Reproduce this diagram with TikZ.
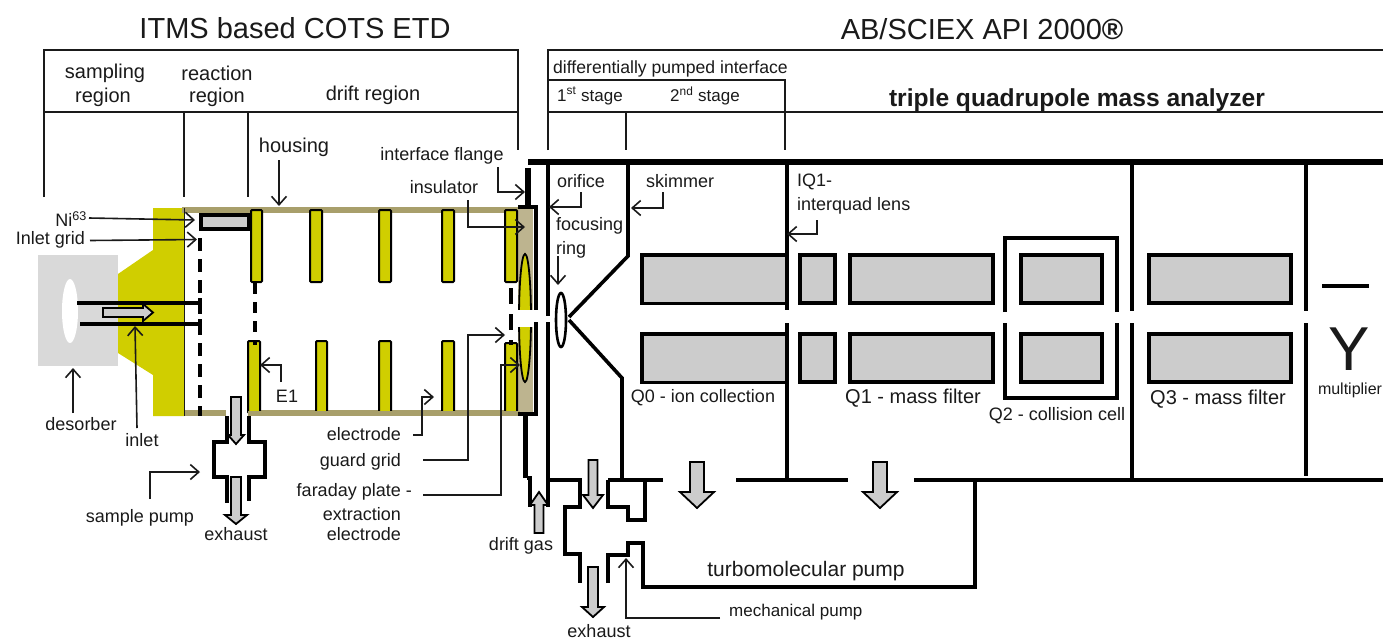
\documentclass[tikz,border=0pt]{standalone}
\usepackage{fontspec}
\setmainfont{Liberation Sans}
\usetikzlibrary{arrows.meta}
\definecolor{yel}{HTML}{D0CE00}
\definecolor{olive}{HTML}{A89F6B}
\definecolor{tan}{HTML}{BDB48F}
\definecolor{lgrey}{HTML}{D9D9D9}
\definecolor{rod}{HTML}{CCCCCC}
\definecolor{ink}{HTML}{1A1A1A}
\tikzset{
  lab/.style={inner sep=0pt,text=ink,font=\fontsize{18}{20}\selectfont},
  labb/.style={inner sep=0pt,text=ink,font=\fontsize{20}{22}\selectfont},
  labs/.style={inner sep=0pt,text=ink,font=\fontsize{17}{19}\selectfont},
  head/.style={inner sep=0pt,text=ink,font=\fontsize{29}{31}\selectfont},
  thin rule/.style={draw=ink,line width=1.3pt},
  wall/.style={draw=black,line width=3.6pt},
  heavy/.style={draw=black,line width=5.5pt},
  lead/.style={draw=ink,line width=1.6pt,-{Straight Barb[length=8.5pt,width=15pt,line width=1.6pt]}},
  elec/.style={draw=black,fill=yel,line width=2pt,rounded corners=1pt},
  rodbox/.style={draw=black,fill=rod,line width=3.2pt},
  gas/.style={draw=black,fill=rod,line width=1.8pt},
  housing/.style={draw=olive,line width=5.5pt}
}
% block arrow: x, top y, tip y, shoulder y, half shaft, half head
\newcommand{\gasdown}[6]{\draw[gas] (#1-#5,#2)--(#1+#5,#2)--(#1+#5,#4)--(#1+#6,#4)--(#1,#3)--(#1-#6,#4)--(#1-#5,#4)--cycle;}
\begin{document}
\begin{tikzpicture}[x=1pt,y=-1pt]
\useasboundingbox (0,0) rectangle (1383,640);
\fill[white] (0,0) rectangle (1383,640);

% headers
\node[head] (hLeft) at (295,28) {ITMS based COTS ETD};
\node[head] (hRight) at (982,29) {AB/SCIEX API 2000{\bfseries ®}};

% header rules, left
\draw[thin rule] (44,197)--(44,50)--(518,50)--(518,150);
\draw[thin rule] (44,112)--(518,112);
\draw[thin rule] (184,112)--(184,197);
\draw[thin rule] (248,112)--(248,197);
% header rules, right
\draw[thin rule] (548,150)--(548,50)--(1383,50);
\draw[thin rule] (548,112)--(1383,112);
\draw[thin rule] (548,80)--(785,80)--(785,150);
\draw[thin rule] (626,112)--(626,150);

\node[labb] (tSamp1) at (105,73) {sampling};
\node[labb] (tSamp2) at (103,97) {region};
\node[labb] (tReac1) at (217,73) {reaction};
\node[labb] (tReac2) at (217,97) {region};
\node[labb] (tDrift) at (373,95) {drift region};
\node[inner sep=0pt,text=ink,font=\fontsize{17.6}{19}\selectfont,anchor=west] (tDiff) at (553,69) {differentially pumped interface};
\node[labs,anchor=west] (t1st) at (557,96) {1\textsuperscript{st} stage};
\node[labs,anchor=west] (t2nd) at (670,96) {2\textsuperscript{nd} stage};
\node[inner sep=0pt,text=ink,font=\fontsize{24.6}{26}\selectfont\bfseries] (tTriple) at (1077,100) {triple quadrupole mass analyzer};

% yellow inlet block + desorber
\fill[yel] (153,208)--(184,208)--(184,416)--(153,416)--(153,375)--(118,353)--(118,274)--(153,250)--cycle;
\fill[lgrey] (38,255) rectangle (118,366);
\fill[white] (70,311) ellipse (8 and 32);

% housing
\draw[housing] (182,210)--(520,210);
\draw[housing] (184,413)--(226,413);
\draw[housing] (248,413)--(520,413);
\draw[draw=ink,line width=1pt] (184,208)--(184,416);

% insulator
\fill[tan] (518,208) rectangle (533,413);

% electrodes
\foreach \xa/\xb in {251/262,310/322,379/391,442/454,505/517}{
  \draw[elec] (\xa,210) rectangle (\xb,282);
}
\foreach \xa/\xb in {248/260,316/327,379/391,442/454}{
  \draw[elec] (\xa,341) rectangle (\xb,413);
}
\draw[elec] (505,343) rectangle (517,413);

% housing bottom over electrode feet
\draw[housing] (248,413.5)--(520,413.5);

% grids
\draw[wall,dash pattern=on 13pt off 8pt] (200,238)--(200,416);
\draw[wall,dash pattern=on 11pt off 8pt] (255,283)--(255,345);
\draw[wall,dash pattern=on 16pt off 10pt] (511,288)--(511,345);

% faraday plate
\draw[draw=black,fill=yel,line width=1.8pt] (525,318) ellipse (6 and 64);
\fill[white] (516,310) rectangle (534,327);

% right wall of detector
\draw[wall] (518,207)--(536,207)--(536,310);
\draw[wall] (536,322)--(536,414)--(518,414);

% Ni63 foil
\draw[rodbox] (201,215) rectangle (249,229);

% inlet tube
\draw[wall] (77,303)--(201,303);
\draw[wall] (80,324)--(201,324);
\draw[wall] (200,298)--(200,308);
\draw[wall] (200,319)--(200,329);
% inlet flow arrow
\draw[gas] (103,308)--(143,308)--(143,304)--(153,312.5)--(143,321)--(143,317)--(103,317)--cycle;

% sample pump
\draw[wall] (227,416)--(227,442)--(214,442)--(214,477)--(227,477)--(227,503);
\draw[wall] (249,416)--(249,442)--(265,442)--(265,477)--(249,477)--(249,501);
\gasdown{236}{397}{444}{435}{5}{8}
\gasdown{236}{477}{524}{515}{5}{11}

% flange and interface
\draw[heavy] (528,162)--(1383,162);
\draw[heavy] (528,168)--(528,208);
\draw[heavy] (525.5,414)--(525.5,478);
\draw[wall] (527,478)--(530,478)--(530,507);
\draw[wall] (548,162)--(548,316);
\draw[wall] (548,322)--(548,507);
\draw[wall] (548,480)--(580,480)--(580,507)--(565,507)--(565,554)--(580,554)--(580,583);
\draw[wall] (608,583)--(608,555)--(628,555)--(628,543)--(643,543)--(643,587)--(975,587)--(975,480);
\draw[wall] (628,162)--(628,256)--(569,317);
\draw[wall] (569,320)--(622,378)--(622,480);
\draw[wall] (608,480)--(663,480);
\draw[wall] (608,480)--(608,507)--(628,507)--(628,520)--(645,520)--(645,480);
\draw[draw=black,line width=2.6pt] (561,320) ellipse (5 and 27);

% rods
\foreach \ya/\yb in {255/303,334/382}{
  \draw[rodbox] (785,\ya)--(642,\ya)--(642,\yb)--(785,\yb);
  \fill[rod] (643.5,\ya+1.5) rectangle (785,\yb-1.5);
  \draw[rodbox] (800,\ya) rectangle (835,\yb);
  \draw[rodbox] (850,\ya) rectangle (993,\yb);
  \draw[rodbox] (1021,\ya) rectangle (1102,\yb);
  \draw[rodbox] (1149,\ya) rectangle (1291,\yb);
}
% Q2 cell
\draw[wall] (1005,312)--(1005,238)--(1117,238)--(1117,312);
\draw[wall] (1005,323)--(1005,398)--(1117,398)--(1117,323);

% walls
\draw[wall] (787,162)--(787,310);
\draw[wall] (787,323)--(787,480);
\draw[wall] (1132,162)--(1132,311);
\draw[wall] (1132,323)--(1132,480);
\draw[wall] (1306,162)--(1306,311);
\draw[wall] (1306,323)--(1306,476);
\draw[wall] (736,480)--(848,480);
\draw[wall] (914,480)--(1383,480);

% detector
\draw[wall] (1322,286)--(1369,286);
\node[inner sep=0pt,text=ink,font=\fontsize{62}{64}\selectfont] (tY) at (1349,349) {Y};
\node[inner sep=0pt,text=ink,font=\fontsize{16}{18}\selectfont] (tMult) at (1350,390) {multiplier};

% gas arrows
\gasdown{593}{460}{508}{495}{4.5}{10}
\gasdown{593}{567}{617}{607}{5}{11}
\gasdown{697}{462}{508}{492}{7}{17}
\gasdown{880}{462}{508}{492}{7}{17}
\draw[gas] (534.5,533)--(543.5,533)--(543.5,505)--(548,505)--(539,492)--(530,505)--(534.5,505)--cycle;

% labels
\node[lab,anchor=east] (tNi) at (87,219) {Ni\textsuperscript{63}};
\node[lab,anchor=east] (tGrid) at (85,240) {Inlet grid};
\node[labb] (tHous) at (294,147) {housing};
\node[lab] (tDes) at (81,424) {desorber};
\node[lab] (tInlet) at (142,440) {inlet};
\node[lab] (tC1) at (287,396) {E1};
\node[lab,anchor=east] (tElec) at (401,434) {electrode};
\node[lab,anchor=east] (tGuard) at (401,462) {guard grid};
\node[lab,anchor=east] (tFar1) at (412,492) {faraday plate -};
\node[lab,anchor=east] (tFar2) at (401,514) {extraction};
\node[lab,anchor=east] (tFar3) at (401,534) {electrode};
\node[lab] (tFlange) at (442,156) {interface flange};
\node[lab] (tIns) at (444,187) {insulator};
\node[lab] (tOr) at (581,181) {orifice};
\node[lab,anchor=west] (tFoc1) at (556,226) {focusing};
\node[lab,anchor=west] (tFoc2) at (556,250) {ring};
\node[lab,anchor=west] (tSkim) at (646,181) {skimmer};
\node[lab,anchor=west] (tIQa) at (797,182) {IQ1-};
\node[lab,anchor=west] (tIQb) at (797,206) {interquad lens};
\node[lab] (tQ0) at (703,398) {Q0 - ion collection};
\node[labb] (tQ1) at (913,398) {Q1 - mass filter};
\node[lab] (tQ2) at (1057,416) {Q2 - collision cell};
\node[labb] (tQ3) at (1218,399) {Q3 - mass filter};
\node[lab] (tPump) at (140,518) {sample pump};
\node[lab] (tEx1) at (236,534) {exhaust};
\node[lab] (tDg) at (521,546) {drift gas};
\node[lab] (tEx2) at (599,631) {exhaust};
\node[inner sep=0pt,text=ink,font=\fontsize{21}{23}\selectfont] (tTurbo) at (806,571) {turbomolecular pump};
\node[labs,anchor=west] (tMech) at (729,612) {mechanical pump};

% leader arrows: free ends are named coordinates
\coordinate (pNi) at (195,220);
\coordinate (pGrid) at (197,239.5);
\coordinate (pHous) at (279,206);
\coordinate (pDes) at (73,368);
\coordinate (pInl) at (135,326);
\coordinate (pE1) at (260,365);
\coordinate (pElec) at (434,397);
\coordinate (pGuard) at (505,335);
\coordinate (pFar) at (520,365);
\coordinate (pFlange) at (525,192);
\coordinate (pIns) at (525,227);
\coordinate (pOr) at (549,207);
\coordinate (pFoc) at (558,285);
\coordinate (pSkim) at (631,208);
\coordinate (pIQ) at (787,234);
\coordinate (pPump) at (200,472);
\coordinate (pMech) at (626,558);

\draw[lead] ([xshift=2pt,yshift=1pt]tNi.east) -- (pNi);
\draw[lead] ([xshift=5pt,yshift=-0.5pt]tGrid.east) -- (pGrid);
\draw[lead] (279,160) -- (pHous);
\draw[lead] (73,413) -- (pDes);
\draw[lead] (137,428) -- (pInl);
\draw[lead] (281,382) -- (281,365) -- (pE1);
\draw[lead] (413,435) -- (422,435) -- (422,397) -- (pElec);
\draw[lead] (423,460) -- (468,460) -- (468,335) -- (pGuard);
\draw[lead] (423,495) -- (501,495) -- (501,365) -- (pFar);
\draw[lead] (498,167) -- (498,192) -- (pFlange);
\draw[lead] (468,200) -- (468,227) -- (pIns);
\draw[lead] (581,192) -- (581,207) -- (pOr);
\draw[lead] (558,256) -- (pFoc);
\draw[lead] (663,192) -- (663,208) -- (pSkim);
\draw[lead] (817,220) -- (817,234) -- (pIQ);
\draw[lead] (150,499) -- (150,472) -- (pPump);
\draw[lead] (720,618) -- (626,618) -- (pMech);
\end{tikzpicture}
\end{document}
